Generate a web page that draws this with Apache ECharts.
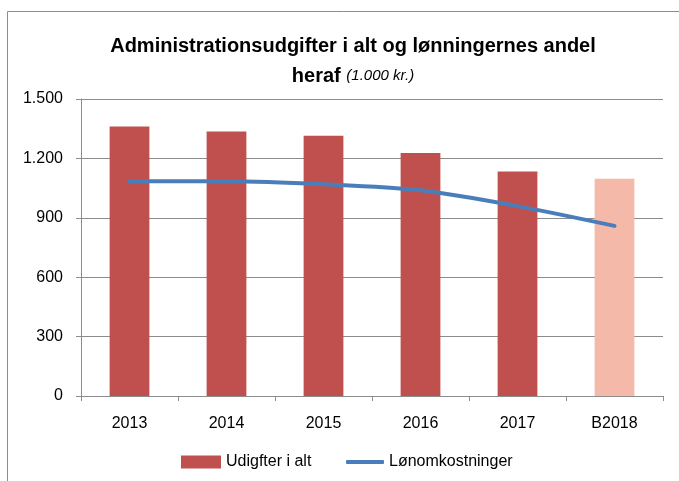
<!DOCTYPE html>
<html>
<head>
<meta charset="utf-8">
<script src="https://cdn.jsdelivr.net/npm/echarts@6/dist/echarts.min.js"></script>
<style>
  html, body { margin: 0; padding: 0; background: #fff; }
  #chart { width: 679px; height: 481px; }
</style>
</head>
<body>
<div id="chart"></div>
<script>
  // data (1.000 kr.)
  var years = ['2013', '2014', '2015', '2016', '2017', 'B2018']
  var udgifter = [1361, 1336, 1314, 1227, 1134, 1097]
  var loen = [1085, 1085, 1070, 1039, 959, 859]
  var yTicks = [0, 300, 600, 900, 1200, 1500]

  var font = '"Liberation Sans Narrow", "Liberation Sans", Arial, sans-serif'
  var axisGrey = '#8c8c8c'

  var chart = echarts.init(document.getElementById('chart'))
  var option = {
    animation: false,
    textStyle: { fontFamily: font },
    graphic: [{
      type: 'rect',
      shape: { x: 7.5, y: 11.5, width: 700, height: 500 },
      style: { fill: 'none', stroke: axisGrey, lineWidth: 1 },
      z: -1
    }],
    title: {
      left: 348,
      top: 26,
      textAlign: 'center',
      text: '{b|Administrationsudgifter i alt og lønningernes andel}\n{b|heraf }{i|(1.000 kr.)}',
      textStyle: {
        rich: {
          b: { fontFamily: font, fontSize: 20, fontWeight: 'bold', color: '#000', lineHeight: 30 },
          i: { fontFamily: font, fontSize: 15, fontStyle: 'italic', fontWeight: 'normal', color: '#000', lineHeight: 30 }
        }
      }
    },
    grid: { left: 81, right: 16, top: 99, bottom: 85 },
    // two legends so the bar box and the line stroke get their own sizes
    legend: [
      {
        top: 449,
        left: 176,
        itemWidth: 40,
        itemHeight: 13,
        textStyle: { fontFamily: font, fontSize: 16, color: '#000' },
        data: [{ name: 'Udigfter i alt', icon: 'rect' }]
      },
      {
        top: 449,
        left: 341,
        itemWidth: 38,
        itemHeight: 4,
        textStyle: { fontFamily: font, fontSize: 16, color: '#000' },
        data: [{ name: 'Lønomkostninger', icon: 'roundRect' }]
      }
    ],
    xAxis: {
      type: 'category',
      data: years,
      axisLine: { lineStyle: { color: axisGrey } },
      axisTick: { show: true, length: 5, lineStyle: { color: axisGrey } },
      axisLabel: { color: '#000', fontSize: 16, margin: 20, fontFamily: font }
    },
    yAxis: {
      type: 'value',
      min: yTicks[0],
      max: yTicks[yTicks.length - 1],
      interval: 300,
      axisLine: { show: true, lineStyle: { color: axisGrey } },
      axisTick: { show: true, inside: false, length: 5, lineStyle: { color: axisGrey } },
      splitLine: { lineStyle: { color: axisGrey, width: 1 } },
      axisLabel: {
        color: '#000',
        fontSize: 16,
        margin: 18,
        fontFamily: font,
        formatter: function (v) {
          return String(v).replace(/\B(?=(\d{3})+(?!\d))/g, '.')
        }
      }
    },
    series: [
      {
        name: 'Udigfter i alt',
        type: 'bar',
        barWidth: '41%',
        data: udgifter.map(function (v, i) {
          if (i === udgifter.length - 1) {
            return { value: v, itemStyle: { color: '#F4B9A8' } }
          }
          return v
        }),
        itemStyle: { color: '#C0504D' }
      },
      {
        name: 'Lønomkostninger',
        type: 'line',
        data: loen,
        smooth: 0.3,
        symbol: 'none',
        lineStyle: { color: '#4A7EBB', width: 4, cap: 'round' },
        itemStyle: { color: '#4A7EBB' }
      }
    ]
  }
  chart.setOption(option)
</script>
</body>
</html>
